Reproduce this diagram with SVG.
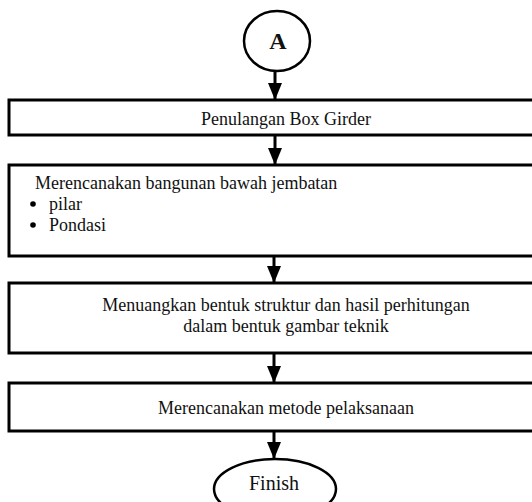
<svg xmlns="http://www.w3.org/2000/svg" width="532" height="502" viewBox="0 0 532 502">
<style>
.box{fill:#fff;stroke:#000;stroke-width:3}
.term{fill:#fff;stroke:#000;stroke-width:2.5}
.t{font-family:"Liberation Serif","Times New Roman",serif;font-size:18px;fill:#111}
.c{text-anchor:middle}
.con{stroke:#000;stroke-width:3;fill:none}
</style>
<defs>
<marker id="ah" markerUnits="userSpaceOnUse" markerWidth="18" markerHeight="16" refX="17" refY="7" orient="auto">
<path d="M0,0 L17,7 L0,14 Z" fill="#000"/>
</marker>
</defs>
<g id="connectors">
<line class="con" x1="275" y1="71" x2="275" y2="100" marker-end="url(#ah)"/>
<line class="con" x1="275" y1="135" x2="275" y2="165" marker-end="url(#ah)"/>
<line class="con" x1="274" y1="256" x2="274" y2="283" marker-end="url(#ah)"/>
<line class="con" x1="274" y1="353" x2="274" y2="383" marker-end="url(#ah)"/>
<line class="con" x1="274" y1="431" x2="274" y2="459" marker-end="url(#ah)"/>
</g>
<g id="nodeA">
<ellipse class="term" cx="277" cy="41" rx="33" ry="30"/>
<text class="t c" x="278" y="49" style="font-size:24px;font-weight:bold">A</text>
</g>
<g id="node1">
<rect class="box" x="9" y="100" width="560" height="35"/>
<text class="t c" x="286" y="125">Penulangan Box Girder</text>
</g>
<g id="node2">
<rect class="box" x="9" y="165" width="560" height="91"/>
<text class="t" x="35" y="189">Merencanakan bangunan bawah jembatan</text>
<circle cx="33" cy="204" r="2.8" fill="#000"/>
<text class="t" x="49" y="210">pilar</text>
<circle cx="33" cy="225" r="2.8" fill="#000"/>
<text class="t" x="49" y="231">Pondasi</text>
</g>
<g id="node3">
<rect class="box" x="9" y="283" width="560" height="70"/>
<text class="t c" x="286" y="311">Menuangkan bentuk struktur dan hasil perhitungan</text>
<text class="t c" x="286" y="332">dalam bentuk gambar teknik</text>
</g>
<g id="node4">
<rect class="box" x="9" y="383" width="560" height="48"/>
<text class="t c" x="286" y="414">Merencanakan metode pelaksanaan</text>
</g>
<g id="finish">
<ellipse class="term" cx="275" cy="489" rx="61" ry="30"/>
<text class="t c" x="274" y="490" style="font-size:20px">Finish</text>
</g>
</svg>
